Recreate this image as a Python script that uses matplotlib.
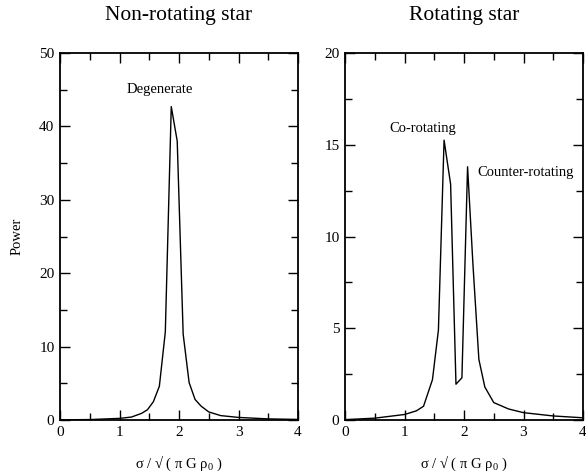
import matplotlib
matplotlib.use("Agg")
import matplotlib.pyplot as plt
from matplotlib.ticker import MultipleLocator

plt.rcParams['font.family'] = ['Liberation Serif', 'DejaVu Serif']
plt.rcParams['mathtext.fontset'] = 'custom'
plt.rcParams['mathtext.rm'] = 'Liberation Serif'
plt.rcParams['mathtext.it'] = 'Liberation Serif'

# Non-rotating star spectrum
x_nonrot = [0.0, 0.5, 1.0, 1.2, 1.37, 1.47, 1.57, 1.67, 1.77, 1.87, 1.97, 2.07,
            2.17, 2.27, 2.37, 2.5, 2.7, 3.0, 3.5, 4.0]
p_nonrot = [0.02, 0.06, 0.22, 0.4, 0.9, 1.4, 2.5, 4.6, 12.0, 42.7, 38.0, 11.7,
            5.1, 2.8, 1.9, 1.1, 0.6, 0.35, 0.15, 0.08]

# Rotating star spectrum
x_rot = [0.0, 0.5, 1.0, 1.2, 1.32, 1.47, 1.57, 1.665, 1.775, 1.865, 1.965, 2.06,
         2.15, 2.25, 2.35, 2.5, 2.75, 3.0, 3.5, 4.0]
p_rot = [0.02, 0.1, 0.3, 0.5, 0.75, 2.2, 4.9, 15.25, 12.85, 1.95, 2.3, 13.8,
         8.5, 3.3, 1.8, 0.95, 0.6, 0.4, 0.22, 0.12]

titles = ["Non-rotating star", "Rotating star"]
xlabel = r"σ / √ ( π G ρ$_0$ )"
ylabel = "Power"
ylims = [50, 20]
ymajor = [10, 5]
yminor = [5, 2.5]

fig = plt.figure(figsize=(5.86, 4.75), dpi=100)
ax1 = fig.add_axes([60/586, 55/475, 238/586, 367/475])
ax2 = fig.add_axes([345/586, 55/475, 238/586, 367/475])

for i, (ax, xs, ys) in enumerate([(ax1, x_nonrot, p_nonrot), (ax2, x_rot, p_rot)]):
    ax.plot(xs, ys, color='black', lw=1.0)
    ax.set_xlim(0, 4)
    ax.set_ylim(0, ylims[i])
    ax.xaxis.set_major_locator(MultipleLocator(1))
    ax.xaxis.set_minor_locator(MultipleLocator(0.5))
    ax.yaxis.set_major_locator(MultipleLocator(ymajor[i]))
    ax.yaxis.set_minor_locator(MultipleLocator(yminor[i]))
    ax.tick_params(which='both', direction='in', top=True, right=True,
                   labelsize=11, pad=4, width=1.0)
    ax.tick_params(which='major', length=7)
    ax.tick_params(which='minor', length=5)
    for s in ax.spines.values():
        s.set_linewidth(1.3)
    ax.set_title(titles[i], fontsize=15.5, pad=24)
    ax.set_xlabel(xlabel, fontsize=10.5, labelpad=11)

ax1.set_ylabel(ylabel, fontsize=10.5, labelpad=11)

ax1.text(1.68, 45.0, "Degenerate", ha='center', va='center', fontsize=10.5)
ax2.text(1.31, 15.9, "Co-rotating", ha='center', va='center', fontsize=10.5)
ax2.text(3.04, 13.5, "Counter-rotating", ha='center', va='center', fontsize=10.5)

fig.savefig("out.png", dpi=100)
